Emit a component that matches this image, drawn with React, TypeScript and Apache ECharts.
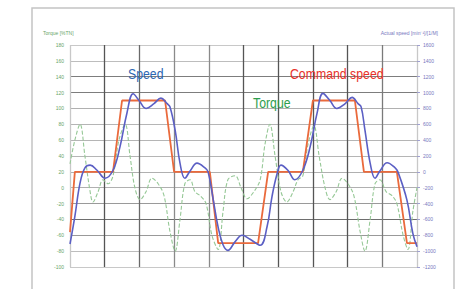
import React, { useEffect, useRef } from "react";
import * as echarts from "echarts";

// Command speed (red), right axis [min^-1]
const cmdTime = [0, 1.4, 12.4, 15.0, 27.4, 30.0, 40.3, 42.7, 54.2, 57.1, 67.1, 70.0, 82.1, 84.7, 94.2, 97.1, 100];
const cmdSpeed = [-760, 0, 0, 900, 900, 0, 0, -900, -900, 0, 0, 900, 900, 0, 0, -900, -900];

// Actual speed (blue), right axis
const actTime = [0, 1.4, 2.9, 4.3, 5.8, 7.8, 10.1, 12.4, 14.4, 16.4, 18.2, 19.9, 21.9, 24.2, 26.2, 28.0, 28.8, 30.3, 31.7, 33.1, 34.6, 36.6, 38.9, 39.8, 41.2, 42.7, 44.1, 45.5, 47.6, 49.6, 51.9, 54.8, 56.8, 58.2, 59.7, 60.8, 62.8, 64.8, 67.1, 69.2, 71.2, 72.9, 74.9, 76.9, 79.3, 81.3, 83.0, 83.9, 85.0, 86.5, 87.9, 89.3, 91.4, 93.7, 94.5, 97.1, 98.8, 100];
const actSpeed = [-910, -560, -140, 50, 85, 20, -80, 20, 315, 740, 985, 900, 800, 860, 930, 860, 820, 525, 110, -80, 10, 110, 50, 0, -330, -700, -920, -990, -880, -800, -850, -925, -690, -315, -20, 85, 20, -100, 20, 315, 740, 990, 900, 800, 860, 940, 860, 820, 525, 110, -80, 10, 115, 50, 0, -356, -775, -945];

// Torque (green dashed), left axis [%TN]
const torqueTime = [0, 1.4, 2.9, 4.3, 5.8, 6.6, 8.1, 9.5, 11.0, 12.4, 14.1, 15.9, 17.3, 18.7, 20.2, 21.9, 23.6, 25.4, 27.1, 28.8, 30.3, 31.7, 33.1, 34.6, 36.0, 37.5, 39.2, 40.9, 42.7, 44.1, 45.5, 47.6, 49.3, 51.0, 53.0, 54.8, 56.2, 57.6, 59.1, 60.8, 62.5, 64.3, 65.7, 67.1, 68.6, 70.3, 71.8, 73.5, 74.9, 76.7, 78.4, 80.1, 81.8, 83.6, 85.0, 86.5, 87.9, 89.3, 91.1, 92.8, 94.2, 96.0, 97.4, 98.8, 100];
const torqueVal = [30, 60, 80, 40, -5, -18, -5, 10, 5, 15, 60, 80, 40, 0, -15, -5, 12, 5, -10, -55, -80, -40, 5, 10, -5, -10, -20, -60, -78, -30, 10, 15, 0, -14, -5, 10, 55, 80, 40, -5, -18, -5, 10, 15, 55, 78, 40, 0, -15, -5, 12, 5, -10, -55, -80, -40, 5, 10, -5, -10, -20, -60, -78, -30, 0];

const leftTitle = "Torque [%TN]";
const rightTitle = "Actual speed [min⁻¹]/[1/M]";

const pairs = (xs: number[], ys: number[]) => xs.map((x, i) => [x, ys[i]]);

export default function App() {
  const ref = useRef<HTMLDivElement>(null);
  useEffect(() => {
    if (!ref.current) return;
    const chart = echarts.init(ref.current, undefined, { renderer: "svg" });
    const narrow = "'Liberation Sans', Arial, sans-serif";
    chart.setOption({
      animation: false,
      backgroundColor: "#ffffff",
      grid: { left: 70, right: 47, top: 45, bottom: 22 },
      xAxis: {
        type: "value",
        min: 0,
        max: 100,
        interval: 10,
        axisLabel: { show: false },
        axisTick: { show: false },
        axisLine: { show: false },
        splitLine: {
          show: true,
          lineStyle: {
            width: 1.3,
            color: ["#c8c8c8", "#555555", "#6a6a6a", "#8a8a8a", "#8a8a8a", "#555555", "#555555", "#555555", "#555555", "#7a7a7a", "#c8c8c8"],
          },
        },
      },
      yAxis: [
        {
          type: "value",
          min: -100,
          max: 180,
          interval: 20,
          position: "left",
          axisLine: { show: false },
          axisTick: { show: false },
          axisLabel: { color: "#6aa56a", fontSize: 5, margin: 6, fontFamily: "sans-serif", formatter: (v: number) => String(v) },
          splitLine: {
            show: true,
            lineStyle: {
              width: 1.2,
              color: ["#c8c8c8", "#bdbdbd", "#999999", "#6e6e6e", "#9a9a9a", "#b0b0b0", "#b0b0b0", "#b5b5b5", "#b5b5b5", "#b5b5b5", "#b0b0b0", "#7d7d7d", "#7d7d7d", "#bdbdbd", "#c8c8c8"],
            },
          },
        },
        {
          type: "value",
          min: -1200,
          max: 1600,
          interval: 200,
          position: "right",
          axisLine: { show: false },
          axisTick: { show: true, length: 3, lineStyle: { color: "#a0a0d0" } },
          axisLabel: { color: "#7878c0", fontSize: 5, margin: 6, fontFamily: "sans-serif", formatter: (v: number) => String(v) },
          splitLine: { show: false },
        },
      ],
      series: [
        {
          name: "Torque",
          type: "line",
          yAxisIndex: 0,
          data: pairs(torqueTime, torqueVal),
          smooth: 0.35,
          showSymbol: false,
          lineStyle: { color: "#96c896", width: 1.1, type: [4, 2] },
          z: 2,
        },
        {
          name: "Command speed",
          type: "line",
          yAxisIndex: 1,
          data: pairs(cmdTime, cmdSpeed),
          smooth: false,
          showSymbol: false,
          lineStyle: { color: "#ea6a3c", width: 1.8 },
          z: 3,
        },
        {
          name: "Speed",
          type: "line",
          yAxisIndex: 1,
          data: pairs(actTime, actSpeed),
          smooth: 0.4,
          showSymbol: false,
          lineStyle: { color: "#5b5fc4", width: 1.6 },
          z: 4,
        },
      ],
      graphic: [
        {
          type: "rect",
          shape: { x: 32, y: 8, width: 422, height: 290 },
          style: { fill: "none", stroke: "#c4c4c4", lineWidth: 1.5 },
          silent: true,
          z: -10,
        },
        {
          type: "text",
          x: 43,
          y: 33,
          style: { text: leftTitle, fill: "#6aa56a", fontSize: 5, fontFamily: "sans-serif", verticalAlign: "middle" },
        },
        {
          type: "text",
          x: 438,
          y: 33,
          style: { text: rightTitle, fill: "#7878c0", fontSize: 5, fontFamily: "sans-serif", align: "right", verticalAlign: "middle" },
        },
        {
          type: "text",
          x: 128,
          y: 74,
          scaleX: 0.82,
          style: { text: "Speed", fill: "#2e68b4", fontSize: 15, fontFamily: narrow, verticalAlign: "middle" },
          z: 10,
        },
        {
          type: "text",
          x: 290,
          y: 74,
          scaleX: 0.82,
          style: { text: "Command speed", fill: "#e8322a", fontSize: 15, fontFamily: narrow, verticalAlign: "middle" },
          z: 10,
        },
        {
          type: "text",
          x: 253,
          y: 103,
          scaleX: 0.82,
          style: { text: "Torque", fill: "#2e9e4e", fontSize: 15, fontFamily: narrow, verticalAlign: "middle" },
          z: 10,
        },
      ],
    });
    return () => chart.dispose();
  }, []);
  return (
    <div
      ref={ref}
      style={{ position: "fixed", left: 0, top: 0, width: 464, height: 289, background: "#fff" }}
    />
  );
}
